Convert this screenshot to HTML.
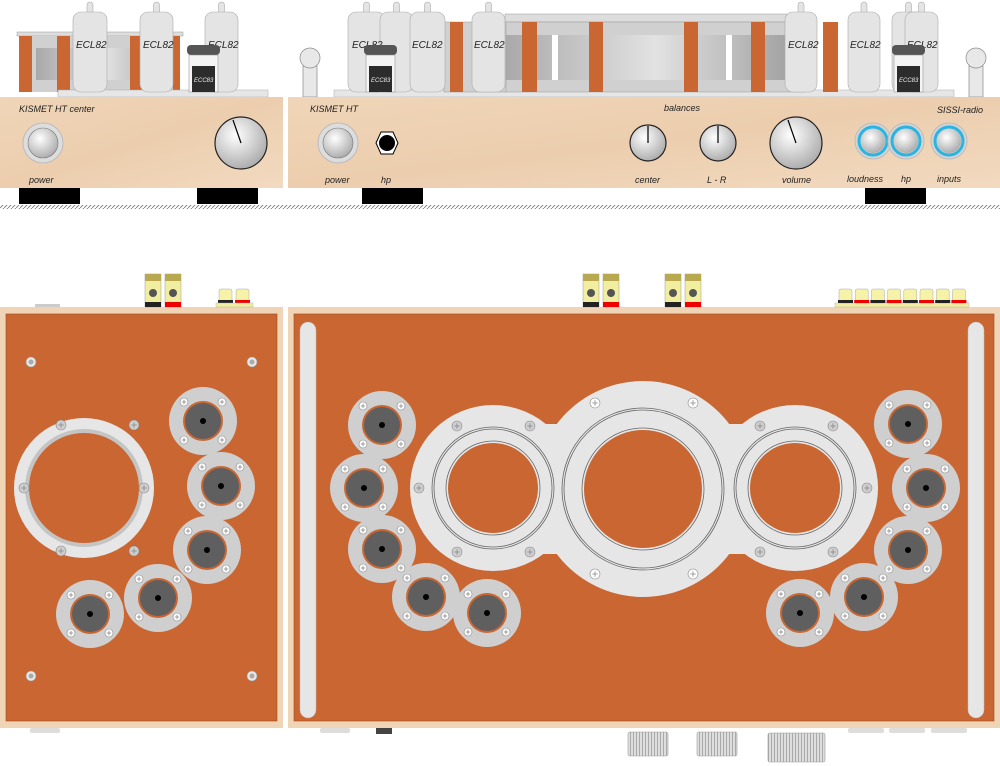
<!DOCTYPE html>
<html><head><meta charset="utf-8"><style>
html,body{margin:0;padding:0;background:#fff}
svg{display:block}
text{font-family:"Liberation Sans",sans-serif;font-style:italic}
</style></head><body>
<svg id="s" width="1000" height="766" viewBox="0 0 1000 766" xmlns="http://www.w3.org/2000/svg">
<defs>
<linearGradient id="wood" x1="0" y1="0" x2="1" y2="1">
<stop offset="0" stop-color="#f0d5b8"/><stop offset="0.5" stop-color="#ecceae"/><stop offset="1" stop-color="#f2dac0"/>
</linearGradient>
<radialGradient id="knob" cx="0.4" cy="0.35" r="0.7">
<stop offset="0" stop-color="#ffffff"/><stop offset="1" stop-color="#a8a8a8"/>
</radialGradient>
<linearGradient id="glass" x1="0" y1="0" x2="1" y2="0">
<stop offset="0" stop-color="#a9a9a9"/><stop offset="0.5" stop-color="#e2e2e2"/><stop offset="1" stop-color="#9a9a9a"/>
</linearGradient>
<pattern id="hatch" width="4" height="4" patternUnits="userSpaceOnUse"><path d="M0 4 L4 0" stroke="#777" stroke-width="0.8"/></pattern>
<pattern id="rib" width="3" height="10" patternUnits="userSpaceOnUse"><rect width="3" height="10" fill="#dedede"/><rect width="1" height="10" fill="#aaa"/></pattern>
</defs>

<!-- ground -->
<rect x="0" y="205" width="1000" height="4" fill="url(#hatch)"/>
<!-- feet -->
<rect x="19" y="188" width="61" height="16" fill="#000"/>
<rect x="197" y="188" width="61" height="16" fill="#000"/>
<rect x="362" y="188" width="61" height="16" fill="#000"/>
<rect x="865" y="188" width="61" height="16" fill="#000"/>

<!-- LEFT TOP: transformer -->
<rect x="17" y="32" width="166" height="4" fill="#ddd" stroke="#999" stroke-width="0.5"/>
<rect x="20" y="36" width="160" height="56" fill="#d0d0d0"/>
<rect x="36" y="48" width="140" height="32" fill="url(#glass)"/>
<rect x="19" y="36" width="13" height="56" fill="#c96632"/>
<rect x="57" y="36" width="13" height="56" fill="#c96632"/>
<rect x="130" y="36" width="12" height="56" fill="#c96632"/>
<rect x="173" y="36" width="7" height="56" fill="#c96632"/>
<rect x="58" y="90" width="210" height="7" fill="#e6e6e6" stroke="#aaa" stroke-width="0.5"/>
<!-- right top base -->
<rect x="334" y="90" width="620" height="7" fill="#e6e6e6" stroke="#aaa" stroke-width="0.5"/>
<!-- long transformer -->
<rect x="505" y="14" width="300" height="8" fill="#ddd" stroke="#999" stroke-width="0.5"/>
<rect x="505" y="22" width="300" height="70" fill="#d0d0d0" stroke="#999" stroke-width="0.5"/>
<rect x="505" y="35" width="300" height="45" fill="url(#glass)"/>
<rect x="552" y="35" width="6" height="45" fill="#fff"/>
<rect x="726" y="35" width="6" height="45" fill="#fff"/>
<rect x="522" y="22" width="15" height="70" fill="#c96632"/>
<rect x="589" y="22" width="14" height="70" fill="#c96632"/>
<rect x="684" y="22" width="14" height="70" fill="#c96632"/>
<rect x="751" y="22" width="14" height="70" fill="#c96632"/>
<rect x="444" y="22" width="62" height="70" fill="#d0d0d0" stroke="#999" stroke-width="0.5"/>
<rect x="450" y="22" width="13" height="70" fill="#c96632"/>
<rect x="823" y="22" width="15" height="70" fill="#c96632"/>
<!-- posts -->
<rect x="303" y="66" width="14" height="31" fill="#e8e8e8" stroke="#888" stroke-width="0.7"/>
<circle cx="310" cy="58" r="10" fill="#e8e8e8" stroke="#888" stroke-width="0.7"/>
<rect x="969" y="66" width="14" height="31" fill="#e8e8e8" stroke="#888" stroke-width="0.7"/>
<circle cx="976" cy="58" r="10" fill="#e8e8e8" stroke="#888" stroke-width="0.7"/>
<g id="tubes" fill="#e4e4e4" stroke="#aaa" stroke-width="0.6"></g>
<g font-size="10" fill="#222">
<text x="76" y="48">ECL82</text><text x="143" y="48">ECL82</text><text x="208" y="48">ECL82</text>
<text x="352" y="48">ECL82</text><text x="412" y="48">ECL82</text><text x="474" y="48">ECL82</text>
<text x="788" y="48">ECL82</text><text x="850" y="48">ECL82</text><text x="907" y="48">ECL82</text>
</g>
<g id="ecc"></g>

<!-- wood panels -->
<rect x="0" y="97" width="283" height="91" fill="url(#wood)"/>
<rect x="288" y="97" width="712" height="91" fill="url(#wood)"/>
<g font-size="9" fill="#222">
<text x="19" y="112">KISMET HT center</text>
<text x="29" y="183">power</text>
<text x="310" y="112">KISMET HT</text>
<text x="325" y="183">power</text>
<text x="381" y="183">hp</text>
<text x="664" y="111">balances</text>
<text x="937" y="113">SISSI-radio</text>
<text x="635" y="183">center</text>
<text x="707" y="183">L - R</text>
<text x="782" y="183">volume</text>
<text x="847" y="182">loudness</text>
<text x="901" y="182">hp</text>
<text x="937" y="182">inputs</text>
</g>
<!-- knobs front -->
<circle cx="43" cy="143" r="20" fill="#ddd" stroke="#bbb"/>
<circle cx="43" cy="143" r="15" fill="url(#knob)" stroke="#777" stroke-width="0.6"/>
<circle cx="338" cy="143" r="20" fill="#ddd" stroke="#bbb"/>
<circle cx="338" cy="143" r="15" fill="url(#knob)" stroke="#777" stroke-width="0.6"/>
<circle cx="241" cy="143" r="26" fill="url(#knob)" stroke="#222" stroke-width="1.2"/>
<line x1="233" y1="120" x2="241" y2="143" stroke="#000" stroke-width="1.2"/>
<polygon points="381,132 393,132 398,143 393,154 381,154 376,143" fill="#fff" stroke="#000" stroke-width="1"/>
<circle cx="387" cy="143" r="8" fill="#000"/>
<circle cx="648" cy="143" r="18" fill="url(#knob)" stroke="#222" stroke-width="1.2"/>
<line x1="648" y1="126" x2="648" y2="143" stroke="#000" stroke-width="1.2"/>
<circle cx="718" cy="143" r="18" fill="url(#knob)" stroke="#222" stroke-width="1.2"/>
<line x1="718" y1="126" x2="718" y2="143" stroke="#000" stroke-width="1.2"/>
<circle cx="796" cy="143" r="26" fill="url(#knob)" stroke="#222" stroke-width="1.2"/>
<line x1="788" y1="120" x2="796" y2="143" stroke="#000" stroke-width="1.2"/>
<g id="blue"></g>

<!-- BOTTOM boxes -->
<rect x="35" y="304" width="25" height="4" fill="#ccc"/>
<rect x="0" y="307" width="283" height="421" fill="#efd4b5"/>
<rect x="6" y="314" width="271" height="407" fill="#c96632" stroke="#9c4a20" stroke-width="0.6"/>
<rect x="288" y="307" width="712" height="421" fill="#efd4b5"/>
<rect x="294" y="314" width="700" height="407" fill="#c96632" stroke="#9c4a20" stroke-width="0.6"/>
<rect x="300" y="322" width="16" height="396" rx="8" fill="#e6e6e6" stroke="#bbb" stroke-width="0.5"/>
<rect x="968" y="322" width="16" height="396" rx="8" fill="#e6e6e6" stroke="#bbb" stroke-width="0.5"/>

<!-- left box big ring -->
<circle cx="84" cy="488" r="70" fill="#e6e6e6"/>
<circle cx="84" cy="488" r="59" fill="#c4c4c4"/>
<circle cx="84" cy="488" r="55" fill="#c96632"/>

<!-- big plate -->
<g fill="#e6e6e6">
<circle cx="493" cy="488" r="83"/><circle cx="795" cy="488" r="83"/><circle cx="643" cy="489" r="108"/>
<rect x="493" y="424" width="302" height="130"/>
</g>
<g fill="none" stroke="#666" stroke-width="0.8">
<circle cx="493" cy="488" r="61"/><circle cx="493" cy="488" r="59"/><circle cx="493" cy="488" r="47"/>
<circle cx="795" cy="488" r="61"/><circle cx="795" cy="488" r="59"/><circle cx="795" cy="488" r="47"/>
<circle cx="643" cy="489" r="81"/><circle cx="643" cy="489" r="79"/><circle cx="643" cy="489" r="61"/>
</g>
<circle cx="493" cy="488" r="45" fill="#c96632"/>
<circle cx="795" cy="488" r="45" fill="#c96632"/>
<circle cx="643" cy="489" r="59" fill="#c96632"/>

<g id="mods"></g>

<!-- bottom knobs -->
<rect x="628" y="732" width="40" height="24" rx="2" fill="url(#rib)" stroke="#999" stroke-width="0.6"/>
<rect x="697" y="732" width="40" height="24" rx="2" fill="url(#rib)" stroke="#999" stroke-width="0.6"/>
<rect x="768" y="733" width="57" height="29" rx="2" fill="url(#rib)" stroke="#999" stroke-width="0.6"/>
<rect x="848" y="728" width="36" height="5" rx="2" fill="#ddd"/>
<rect x="889" y="728" width="36" height="5" rx="2" fill="#ddd"/>
<rect x="931" y="728" width="36" height="5" rx="2" fill="#ddd"/>
<rect x="376" y="728" width="16" height="6" fill="#444"/>
<rect x="320" y="728" width="30" height="5" rx="2" fill="#ddd"/>
<rect x="30" y="728" width="30" height="5" rx="2" fill="#ddd"/>
</svg>
<script>
var NS="http://www.w3.org/2000/svg";
function el(p,t,a){var e=document.createElementNS(NS,t);for(var k in a)e.setAttribute(k,a[k]);document.getElementById(p).appendChild(e);return e;}
// tubes
[[73,107],[140,173],[205,238],[348,385],[380,413],[410,445],[472,505],[785,817],[848,880],[892,925],[905,938]].forEach(function(t){
 var w=t[1]-t[0],c=(t[0]+t[1])/2;
 el("tubes","rect",{x:c-3,y:2,width:6,height:12,rx:3});
 el("tubes","rect",{x:t[0],y:12,width:w,height:80,rx:8});
});
[[187,220],[364,397],[892,925]].forEach(function(t){
 el("ecc","rect",{x:t[0],y:45,width:33,height:10,rx:4,fill:"#555"});
 el("ecc","rect",{x:t[0]+2,y:55,width:29,height:37,fill:"#f4f4f4",stroke:"#888","stroke-width":0.5});
 el("ecc","rect",{x:t[0]+5,y:66,width:23,height:26,fill:"#2c2c2c"});
 var tx=el("ecc","text",{x:t[0]+7,y:82,"font-size":6,fill:"#eee"});tx.textContent="ECC83";
});
[[873,141],[906,141],[949,141]].forEach(function(p){
 el("blue","circle",{cx:p[0],cy:p[1],r:18,fill:"#d4d4d4",stroke:"#bbb"});
 el("blue","circle",{cx:p[0],cy:p[1],r:14,fill:"none",stroke:"#2ab4e0","stroke-width":3});
 el("blue","circle",{cx:p[0],cy:p[1],r:12,fill:"url(#knob)"});
});
function screw(x,y,r,f){el("mods","circle",{cx:x,cy:y,r:r,fill:f||"#fff",stroke:"#888","stroke-width":0.6});
 el("mods","path",{d:"M"+(x-r*0.55)+" "+y+"H"+(x+r*0.55)+"M"+x+" "+(y-r*0.55)+"V"+(y+r*0.55),stroke:"#888","stroke-width":0.8});}
[[203,421],[221,486],[207,550],[158,598],[90,614],[382,425],[364,488],[382,549],[426,597],[487,613],[908,424],[926,488],[908,550],[864,597],[800,613]].forEach(function(p){
 var x=p[0],y=p[1];
 el("mods","circle",{cx:x,cy:y,r:34,fill:"#cfcfcf"});
 el("mods","circle",{cx:x,cy:y,r:20,fill:"#c96632"});
 el("mods","circle",{cx:x,cy:y,r:18,fill:"#5f5f5f"});
 el("mods","circle",{cx:x,cy:y,r:3,fill:"#000"});
 [[-19,-19],[19,-19],[-19,19],[19,19]].forEach(function(d){screw(x+d[0],y+d[1],4);});
});
// plate screws
[[457,426],[530,426],[457,552],[530,552],[419,488],[760,426],[833,426],[760,552],[833,552],[867,488],[24,488],[144,488],[61,425],[134,425],[61,551],[134,551]].forEach(function(p){screw(p[0],p[1],5,"#cfcfcf");});
[[595,403],[693,403],[595,574],[693,574]].forEach(function(p){screw(p[0],p[1],5);});
[[31,362],[252,362],[31,676],[252,676]].forEach(function(p){el("mods","circle",{cx:p[0],cy:p[1],r:5,fill:"#e8e8e8",stroke:"#999","stroke-width":0.6});el("mods","circle",{cx:p[0],cy:p[1],r:2.5,fill:"#aaa"});});
// connectors
function tall(x,c){el("mods","rect",{x:x,y:274,width:16,height:33,fill:"#f2eea0",stroke:"#999","stroke-width":0.5});
 el("mods","rect",{x:x,y:274,width:16,height:7,fill:"#b8a850"});
 el("mods","circle",{cx:x+8,cy:293,r:4,fill:"#555"});
 el("mods","rect",{x:x,y:302,width:16,height:5,fill:c});}
tall(145,"#222");tall(165,"#e00");tall(583,"#222");tall(603,"#e00");tall(665,"#222");tall(685,"#e00");
function small(x,c){el("mods","rect",{x:x,y:289,width:13,height:14,rx:2,fill:"#f6f2a8",stroke:"#aaa","stroke-width":0.5});
 el("mods","rect",{x:x-1,y:300,width:15,height:3,fill:c});}
small(219,"#222");small(236,"#e00");
el("mods","rect",{x:216,y:303,width:37,height:4,fill:"#f2eea0",stroke:"#aaa","stroke-width":0.4});
el("mods","rect",{x:835,y:303,width:134,height:4,fill:"#f2eea0",stroke:"#aaa","stroke-width":0.4});
for(var i=0;i<8;i++)small(839+i*16.2,i%2?"#e00":"#222");
</script>
</body></html>
